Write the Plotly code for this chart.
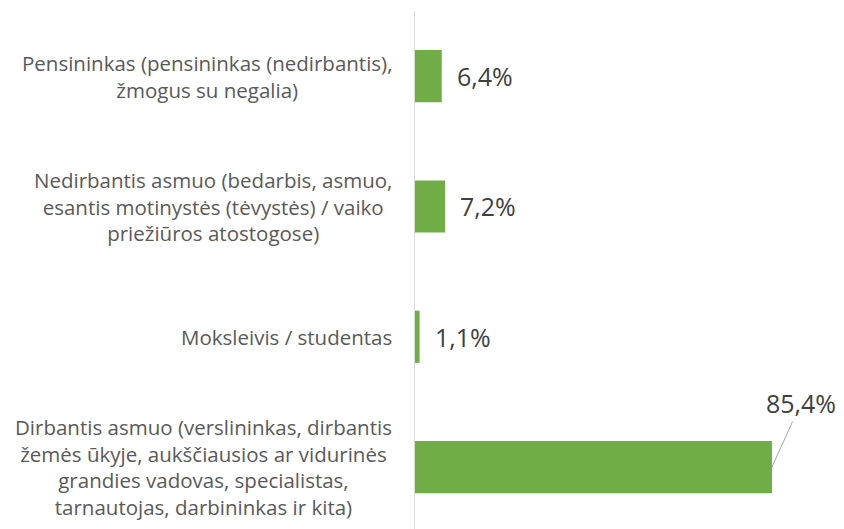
import plotly.graph_objects as go

categories = [
    "Dirbantis asmuo (verslininkas, dirbantis<br>žemės ūkyje, aukščiausios ar vidurinės<br>grandies vadovas, specialistas,<br>tarnautojas, darbininkas ir kita)",
    "Moksleivis / studentas",
    "Nedirbantis asmuo (bedarbis, asmuo,<br>esantis motinystės (tėvystės) / vaiko<br>priežiūros atostogose)",
    "Pensininkas (pensininkas (nedirbantis),<br>žmogus su negalia)",
]
values = [85.4, 1.1, 7.2, 6.4]
value_labels = ["85,4%", "1,1%", "7,2%", "6,4%"]

FONT = "Open Sans"
fig = go.Figure()
fig.add_trace(go.Bar(
    x=values, y=categories, orientation="h",
    marker=dict(color="#70AD47", line=dict(width=0)),
    hoverinfo="skip",
))

annotations = []
for cat, v, lab in zip(categories, values, value_labels):
    annotations.append(dict(
        xref="paper", x=0, yref="y", y=cat, text=cat, showarrow=False,
        xanchor="right", yanchor="middle", align="center", xshift=-21,
        font=dict(family=FONT, size=20.5, color="#595959"),
    ))
    if v > 50:
        annotations.append(dict(
            x=v, y=cat, xref="x", yref="y", text=lab, showarrow=True,
            arrowhead=0, arrowwidth=1, arrowcolor="#A6A6A6", ax=29, ay=-64,
            standoff=0, font=dict(family=FONT, size=25, color="#404040"),
        ))
    else:
        annotations.append(dict(
            x=v, y=cat, xref="x", yref="y", text=lab, showarrow=False,
            xanchor="left", yanchor="middle", xshift=13,
            font=dict(family=FONT, size=25, color="#404040"),
        ))

fig.update_layout(
    width=844, height=529,
    margin=dict(l=407, r=19, t=3, b=8),
    paper_bgcolor="white", plot_bgcolor="white",
    bargap=0.6, showlegend=False,
    annotations=annotations,
    xaxis=dict(range=[0, 100], visible=False, fixedrange=True),
    yaxis=dict(range=[-0.475, 3.5], categoryorder="array", categoryarray=categories,
               showticklabels=False, showline=True, linecolor="#D9D9D9", linewidth=1,
               ticks="", showgrid=False, zeroline=False),
)
fig.write_html("out.html")
